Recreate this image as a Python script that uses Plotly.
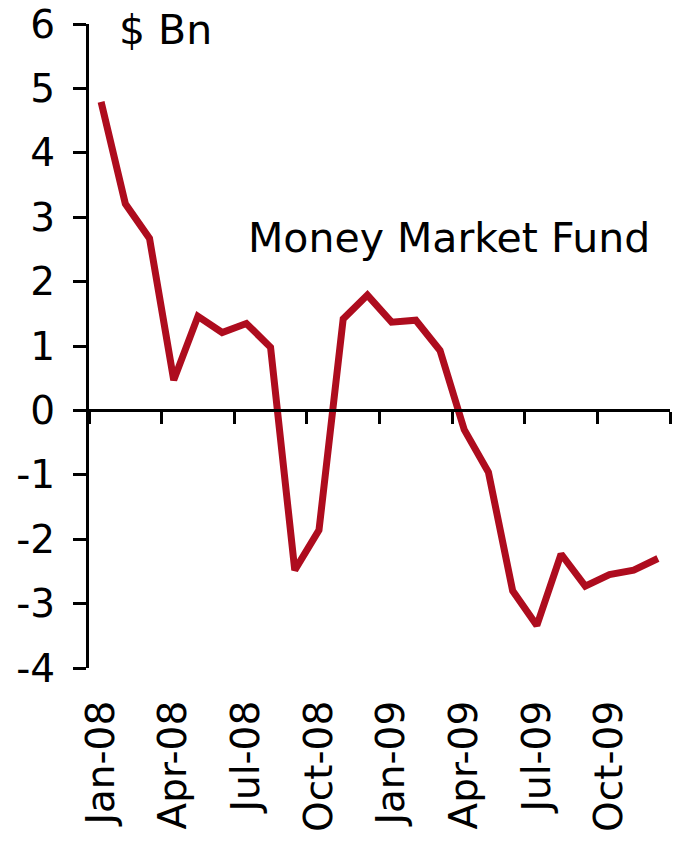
import plotly.graph_objects as go

months = ["Jan-08", "Feb-08", "Mar-08", "Apr-08", "May-08", "Jun-08", "Jul-08", "Aug-08",
          "Sep-08", "Oct-08", "Nov-08", "Dec-08", "Jan-09", "Feb-09", "Mar-09", "Apr-09",
          "May-09", "Jun-09", "Jul-09", "Aug-09", "Sep-09", "Oct-09", "Nov-09", "Dec-09"]
values = [4.79, 3.21, 2.67, 0.47, 1.46, 1.21, 1.35, 0.98,
          -2.48, -1.86, 1.42, 1.79, 1.37, 1.40, 0.93, -0.30,
          -0.96, -2.80, -3.34, -2.23, -2.73, -2.55, -2.48, -2.30]
y_ticks = [-4, -3, -2, -1, 0, 1, 2, 3, 4, 5, 6]
label_every = 3

idx = list(range(len(months)))
label_idx = idx[::label_every]
label_txt = [months[i] for i in label_idx]
boundary_vals = [i - 0.5 for i in range(0, len(months) + 1, label_every)]

FONT = "DejaVu Sans"
FS = 39
FA = 41
fig = go.Figure()
fig.add_trace(go.Scatter(x=idx, y=values, mode="lines",
                         line=dict(color="#AE0C1E", width=7), showlegend=False,
                         hoverinfo="skip"))

xr = [-0.5, len(months) - 0.5]
fig.update_layout(
    width=682, height=851,
    margin=dict(l=89, r=12, t=24, b=183, autoexpand=False),
    paper_bgcolor="white", plot_bgcolor="white",
    font=dict(family=FONT, size=FS, color="black"),
    xaxis=dict(range=xr, tickmode="array", tickvals=label_idx, ticktext=label_txt,
               tickangle=-90, showline=False, showgrid=False, zeroline=False,
               ticks="", ticklabelstandoff=24, automargin=False,
               tickfont=dict(family=FONT, size=FS, color="black")),
    xaxis2=dict(range=xr, overlaying="x", anchor="free", position=0.4, side="bottom",
                tickmode="array", tickvals=boundary_vals, showticklabels=False,
                showline=True, linecolor="black", linewidth=3, automargin=False,
                ticks="outside", ticklen=12, tickwidth=3, tickcolor="black",
                showgrid=False, zeroline=False),
    yaxis=dict(range=[-4, 6], tickmode="array", tickvals=y_ticks,
               ticktext=[str(v) for v in y_ticks], automargin=False,
               showline=True, linecolor="black", linewidth=3,
               ticks="outside", ticklen=13, tickwidth=3, tickcolor="black",
               showgrid=False, zeroline=False, ticklabelstandoff=10,
               tickfont=dict(family=FONT, size=FS, color="black")),
    annotations=[
        dict(text="$ Bn", xref="paper", yref="paper", x=0.048, y=0.99,
             xanchor="left", yanchor="middle", showarrow=False,
             font=dict(family=FONT, size=FA, color="black")),
        dict(text="Money Market Fund", xref="paper", yref="paper", x=0.27, y=0.668,
             xanchor="left", yanchor="middle", showarrow=False,
             font=dict(family=FONT, size=FA, color="black")),
    ],
)
# empty trace so xaxis2 renders
fig.add_trace(go.Scatter(x=[], y=[], xaxis="x2", showlegend=False))
fig.write_html("out.html", config={"displayModeBar": False},
               post_script="document.body.style.margin='0';")
